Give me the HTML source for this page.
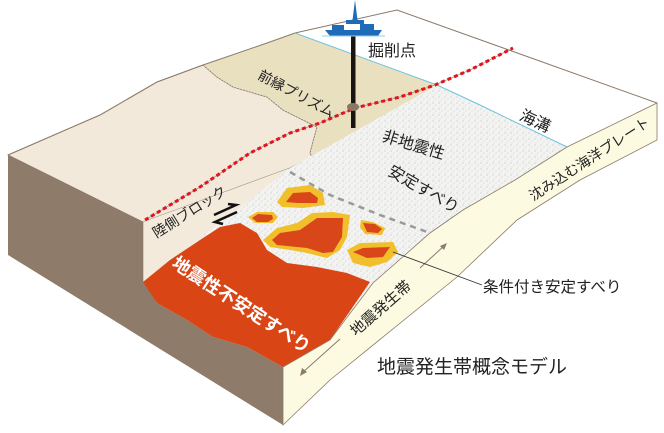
<!DOCTYPE html>
<html><head><meta charset="utf-8"><style>
html,body{margin:0;padding:0;background:#fff;}
svg{display:block;}
text{font-family:"Liberation Sans","Noto Sans CJK JP",sans-serif;fill:#222;}
</style></head><body>
<svg width="664" height="433" viewBox="0 0 664 433" xmlns="http://www.w3.org/2000/svg">
<defs>
<pattern id="st" width="6" height="6" patternUnits="userSpaceOnUse">
<rect width="6" height="6" fill="#f3f3f1"/>
<circle cx="1" cy="1" r="0.5" fill="#aaa"/><circle cx="4" cy="3" r="0.45" fill="#bbb"/><circle cx="2" cy="5" r="0.4" fill="#b5b5b5"/>
</pattern>
</defs>
<!-- brown side face -->
<polygon points="8,155 143,222 143,280 157,303 187,320 213,337 247,347 283,367 283,425 8,255" fill="#8f7b69"/>
<!-- land surface -->
<polygon points="8,155 100,115 157,82 203,65 217,77 233,87 267,97 283,110 317,127 310,153 312,157 290,168 143,222" fill="#f2e9da" stroke="#8a7a6a" stroke-width="0.8"/>
<!-- prism -->
<polygon points="203,65 267,43 295,33 437,85 312,157 310,153 317,127 283,110 267,97 233,87 217,77" fill="#e9e0bf"/>
<polyline points="203,65 217,77 233,87 267,97 283,110 317,127 310,153 312,157" fill="none" stroke="#777" stroke-width="0.8" stroke-dasharray="1.5,1.5"/>
<!-- ocean floor -->
<polygon points="295,33 397,10 657,103 567,147 437,85" fill="#fff"/>
<polyline points="8,155 100,115 157,82 203,65 267,43 295,33 397,10 657,103" fill="none" stroke="#8a7a6a" stroke-width="1"/>
<!-- stipple -->
<polygon points="290,168 437,85 567,147 515,180 463,210 430,233 373,283 330,340 283,367 143,282" fill="url(#st)"/>
<polyline points="295,33 437,85 480,105 567,147" fill="none" stroke="#6cc3e0" stroke-width="1"/>
<!-- fault face -->
<polygon points="143,222 290,168 250,200 143,282" fill="#f3eadb"/>
<line x1="143" y1="222" x2="143" y2="282" stroke="#8a7a6a" stroke-width="0.6"/>
<!-- orange -->
<polygon points="143,282 170,260 200,240 220,227 240,223 257,233 267,250 287,263 317,267 347,273 370,282 330,340 283,367 247,347 213,337 187,320 157,303" fill="#d94514"/>
<!-- cream strip -->
<polygon points="657,103 567,147 515,180 463,210 430,233 373,283 330,340 283,367 283,425 330,380 457,277 517,220 580,180 657,140" fill="#fdfae2" stroke="#8a7a6a" stroke-width="0.8"/>
<!-- dashed -->
<polyline points="290,172 330,195 380,215 430,233" fill="none" stroke="#999" stroke-width="2.5" stroke-dasharray="6,5"/>
<!-- patches -->
<g fill="#f1bf2c">
<polygon points="277,202 287,188 310,185 323,193 325,205 303,208 282,207"/>
<polygon points="248,217 257,212 273,212 278,217 273,223 255,223"/>
<polygon points="263,240 277,228 297,223 312,213 333,212 350,215 347,237 340,250 327,258 307,253 290,250 270,247"/>
<polygon points="361,220 373,222 385,228 382,235 365,234 360,227"/>
<polygon points="347,250 360,243 393,242 398,252 387,262 370,267 353,263"/>
</g>
<g fill="#d9461a">
<polygon points="286,202 293,193 310,192 318,198 317,203 297,203"/>
<polygon points="252,218 258,214 272,215 273,219 268,222 257,222"/>
<polygon points="272,240 280,233 300,230 317,218 343,218 342,237 333,252 323,253 307,248 277,245"/>
<polygon points="363,223 375,224 382,229 378,233 367,232"/>
<polygon points="353,252 363,248 390,247 383,257 367,258"/>
</g>
<!-- red dotted line -->
<polyline points="145,220 200,187 250,153 290,133 320,123 355,108 400,97 435,85 470,70 513,48" fill="none" stroke="#999" stroke-width="0.8"/>
<polyline points="145,220 200,187 250,153 290,133 320,123 355,108 400,97 435,85 470,70 513,48" fill="none" stroke="#e3141b" stroke-width="3" stroke-dasharray="4,3"/>
<!-- drill -->
<rect x="351" y="36" width="4.5" height="92" fill="#1a1410"/>
<ellipse cx="353" cy="107" rx="6" ry="4" fill="#8a7866"/>
<!-- ship -->
<g fill="#1e6bb8">
<polygon points="325,30 382,30 378,36 330,36"/>
<rect x="332" y="25" width="12" height="5"/><rect x="360" y="24" width="14" height="6"/>
<polygon points="352,24 355,0 358,24"/>
<rect x="346" y="20" width="18" height="4"/>
</g>
<line x1="322" y1="36" x2="385" y2="36" stroke="#8fd0ee" stroke-width="1"/>
<!-- slip arrows -->
<path d="M214,215 L236,205 L228,204" fill="none" stroke="#111" stroke-width="2.5"/>
<path d="M237,212 L215,222 L223,224" fill="none" stroke="#111" stroke-width="2.5"/>
<!-- arrow along strip -->
<line x1="302" y1="373" x2="340" y2="339" stroke="#8a7a70" stroke-width="1"/>
<line x1="420" y1="268" x2="445" y2="245" stroke="#8a7a70" stroke-width="1"/>
<polygon points="300,376 302,368 307,372" fill="#8a7a70"/>
<polygon points="447,243 440,246 444,250" fill="#8a7a70"/>
<line x1="393" y1="252" x2="482" y2="285" stroke="#333" stroke-width="0.9"/>
<!-- labels -->
<text x="368" y="56" font-size="16">掘削点</text>
<text transform="translate(294,98) rotate(28)" text-anchor="middle" font-size="14">前縁プリズム</text>
<text transform="translate(192,216) rotate(-32)" text-anchor="middle" font-size="14">陸側ブロック</text>
<text transform="translate(238,310) rotate(33)" text-anchor="middle" font-size="18" font-weight="bold" style="fill:#fff">地震性不安定すべり</text>
<text transform="translate(412,150) rotate(17)" text-anchor="middle" font-size="16">非地震性</text>
<text transform="translate(421,194) rotate(30)" text-anchor="middle" font-size="16">安定すべり</text>
<text transform="translate(533,126) rotate(25)" text-anchor="middle" font-size="16">海溝</text>
<text transform="translate(592,163) rotate(-33)" text-anchor="middle" font-size="14">沈み込む海洋プレート</text>
<text transform="translate(384,312) rotate(-41)" text-anchor="middle" font-size="15">地震発生帯</text>
<text x="483" y="292" font-size="15.5">条件付き安定すべり</text>
<text x="377" y="373" font-size="19">地震発生帯概念モデル</text>
</svg>
</body></html>
